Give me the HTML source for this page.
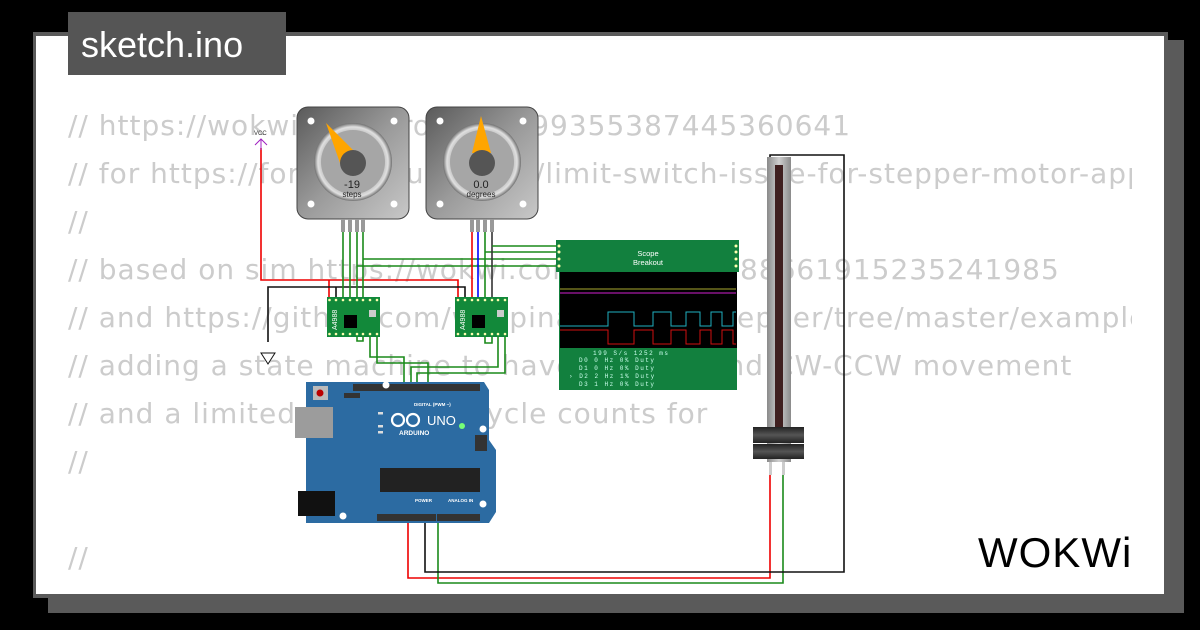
<!DOCTYPE html>
<html><head><meta charset="utf-8"><style>
html,body{margin:0;padding:0;background:#000;width:1200px;height:630px;overflow:hidden}
svg{display:block}
</style></head><body>
<svg width="1200" height="630" viewBox="0 0 1200 630" xmlns="http://www.w3.org/2000/svg" font-family="Liberation Sans, sans-serif">
<defs>
<linearGradient id="mg" x1="0" y1="0" x2="1" y2="1"><stop offset="0" stop-color="#5a5a5a"/><stop offset="0.5" stop-color="#9a9a9a"/><stop offset="1" stop-color="#c8c8c8"/></linearGradient>
<radialGradient id="rg" cx="0.5" cy="0.5" r="0.5"><stop offset="0.7" stop-color="#a8a8a8"/><stop offset="0.9" stop-color="#e0e0e0"/><stop offset="1" stop-color="#707070"/></radialGradient>
<linearGradient id="sg" x1="0" y1="0" x2="1" y2="0"><stop offset="0" stop-color="#8a8a8a"/><stop offset="0.5" stop-color="#cfcfcf"/><stop offset="1" stop-color="#8a8a8a"/></linearGradient>
<linearGradient id="hg" x1="0" y1="0" x2="0" y2="1"><stop offset="0" stop-color="#222"/><stop offset="0.5" stop-color="#555"/><stop offset="1" stop-color="#222"/></linearGradient>
<clipPath id="cp"><rect x="36" y="36" width="1096" height="558"/></clipPath>
</defs>
<rect x="48" y="40" width="1136" height="573" fill="#5a5a5a"/>
<rect x="33" y="32" width="1135" height="566" fill="#5a5a5a"/>
<rect x="36" y="36" width="1128" height="558" fill="#fff"/>
<g clip-path="url(#cp)" fill="#cccccc" font-size="28" letter-spacing="1" font-family="DejaVu Sans, sans-serif">
<text x="68" y="135">// https://wokwi.com/projects/399355387445360641</text>
<text x="68" y="183">// for https://forum.arduino.cc/t/limit-switch-issue-for-stepper-motor-app</text>
<text x="68" y="231">//</text>
<text x="68" y="279">// based on sim https://wokwi.com/projects/388661915235241985</text>
<text x="68" y="327">// and https://github.com/waspinator/AccelStepper/tree/master/examples</text>
<text x="68" y="375">// adding a state machine to have a timed and CW-CCW movement</text>
<text x="68" y="423">// and a limited number of cycle counts for</text>
<text x="68" y="471">//</text>
<text x="68" y="567">//</text>
<text x="68" y="615">// Demo mode</text>
</g>
<rect x="68" y="12" width="218" height="63" fill="#555"/>
<text x="81" y="57" fill="#fff" font-size="36">sketch.ino</text>

<g fill="none" stroke-width="1.6">
<path d="M261 148 V280 H329 V297 M329 280 H458 V297" stroke="#e00"/>
<path d="M268 342 V287 H336 V297 M336 287 H465 V297" stroke="#111"/>
<path d="M343 232 V297 M350 232 V297 M357 232 V297 M363 232 V297" stroke="#1a8a1a"/>
<path d="M363 259 H557 M357 266 H557" stroke="#1a8a1a"/>
<path d="M472 232 V297" stroke="#e00"/>
<path d="M478 232 V297" stroke="#00f"/>
<path d="M485 232 V297 M485 252 H557" stroke="#1a8a1a"/>
<path d="M492 232 V297" stroke="#333"/>
<path d="M492 246 H557" stroke="#1a8a1a"/>
<path d="M357 337 V341 H363 V337 M485 337 V343 H492 V337" stroke="#1a8a1a"/>
<path d="M370 337 V357 H404 V387 M377 337 V363 H428 V387 M498 337 V367 H411 V387 M505 337 V373 H417 V387" stroke="#1a8a1a"/>
<path d="M408 520 V578 H770 V475" stroke="#e00"/>
<path d="M438 520 V583 H783 V475" stroke="#1a8a1a"/>
<path d="M425 520 V572 H844 V155 H770 V157" stroke="#111"/>
</g>
<text x="254" y="135" font-size="6" fill="#333">VCC</text>
<path d="M255 145 L261 139 L267 145 M261 139 V150" stroke="#a020c0" fill="none" stroke-width="1"/>
<path d="M261 353 H275 L268 364 Z" fill="#fff" stroke="#111" stroke-width="1"/>

<g>
<rect x="297" y="107" width="112" height="112" rx="11" fill="url(#mg)" stroke="#444" stroke-width="1"/>
<circle cx="353" cy="162" r="39" fill="url(#rg)"/>
<circle cx="353" cy="162" r="32" fill="#a6a6a6"/>
<circle cx="311" cy="121" r="3.5" fill="#fff"/><circle cx="394" cy="121" r="3.5" fill="#fff"/><circle cx="311" cy="204" r="3.5" fill="#fff"/><circle cx="394" cy="204" r="3.5" fill="#fff"/>
<path d="M326 123 L358 155 L341 166 Z" fill="#ffa500"/>
<circle cx="353" cy="163" r="13" fill="#555"/>
<text x="352" y="188" font-size="11" text-anchor="middle" fill="#222">-19</text>
<text x="352" y="197" font-size="8" text-anchor="middle" fill="#222">steps</text>
<rect x="341" y="219" width="4" height="13" fill="#999"/><rect x="348" y="219" width="4" height="13" fill="#999"/><rect x="355" y="219" width="4" height="13" fill="#999"/><rect x="361" y="219" width="4" height="13" fill="#999"/>

<rect x="426" y="107" width="112" height="112" rx="11" fill="url(#mg)" stroke="#444" stroke-width="1"/>
<circle cx="482" cy="162" r="39" fill="url(#rg)"/>
<circle cx="482" cy="162" r="32" fill="#a6a6a6"/>
<circle cx="440" cy="121" r="3.5" fill="#fff"/><circle cx="523" cy="121" r="3.5" fill="#fff"/><circle cx="440" cy="204" r="3.5" fill="#fff"/><circle cx="523" cy="204" r="3.5" fill="#fff"/>
<path d="M481 116 L472 153 L491 153 Z" fill="#ffa500"/>
<circle cx="482" cy="163" r="13" fill="#555"/>
<text x="481" y="188" font-size="11" text-anchor="middle" fill="#222">0.0</text>
<text x="481" y="197" font-size="8" text-anchor="middle" fill="#222">degrees</text>
<rect x="470" y="219" width="4" height="13" fill="#999"/><rect x="476" y="219" width="4" height="13" fill="#999"/><rect x="483" y="219" width="4" height="13" fill="#999"/><rect x="490" y="219" width="4" height="13" fill="#999"/>
</g>

<g>
<rect x="327" y="297" width="53" height="40" fill="#12893a"/>
<rect x="344" y="315" width="13" height="13" fill="#000"/>
<rect x="369" y="310" width="7" height="7" fill="#ccc"/>
<text transform="translate(337,330) rotate(-90)" font-size="7" fill="#fff">A4988</text>
<g fill="#ffffb0"><circle cx="329.5" cy="300" r="1.3"/><circle cx="336" cy="300" r="1.3"/><circle cx="343" cy="300" r="1.3"/><circle cx="350" cy="300" r="1.3"/><circle cx="357" cy="300" r="1.3"/><circle cx="363" cy="300" r="1.3"/><circle cx="370" cy="300" r="1.3"/><circle cx="377" cy="300" r="1.3"/>
<circle cx="329.5" cy="334" r="1.3"/><circle cx="336" cy="334" r="1.3"/><circle cx="343" cy="334" r="1.3"/><circle cx="350" cy="334" r="1.3"/><circle cx="357" cy="334" r="1.3"/><circle cx="363" cy="334" r="1.3"/><circle cx="370" cy="334" r="1.3"/><circle cx="377" cy="334" r="1.3"/></g>
<rect x="455" y="297" width="53" height="40" fill="#12893a"/>
<rect x="472" y="315" width="13" height="13" fill="#000"/>
<rect x="497" y="310" width="7" height="7" fill="#ccc"/>
<text transform="translate(465,330) rotate(-90)" font-size="7" fill="#fff">A4988</text>
<g fill="#ffffb0"><circle cx="458" cy="300" r="1.3"/><circle cx="465" cy="300" r="1.3"/><circle cx="472" cy="300" r="1.3"/><circle cx="478" cy="300" r="1.3"/><circle cx="485" cy="300" r="1.3"/><circle cx="492" cy="300" r="1.3"/><circle cx="498" cy="300" r="1.3"/><circle cx="505" cy="300" r="1.3"/>
<circle cx="458" cy="334" r="1.3"/><circle cx="465" cy="334" r="1.3"/><circle cx="472" cy="334" r="1.3"/><circle cx="478" cy="334" r="1.3"/><circle cx="485" cy="334" r="1.3"/><circle cx="492" cy="334" r="1.3"/><circle cx="498" cy="334" r="1.3"/><circle cx="505" cy="334" r="1.3"/></g>
</g>

<g>
<rect x="556" y="240" width="183" height="32" fill="#12803e"/>
<rect x="559" y="272" width="178" height="118" fill="#12803e"/>
<rect x="560" y="272" width="177" height="76" fill="#000"/>
<text x="648" y="256" font-size="7.5" fill="#fff" text-anchor="middle">Scope</text>
<text x="648" y="265" font-size="7.5" fill="#fff" text-anchor="middle">Breakout</text>
<g fill="#ffffb0"><circle cx="559" cy="246" r="1.5"/><circle cx="559" cy="252" r="1.5"/><circle cx="559" cy="259" r="1.5"/><circle cx="559" cy="266" r="1.5"/><circle cx="736" cy="246" r="1.5"/><circle cx="736" cy="252" r="1.5"/><circle cx="736" cy="259" r="1.5"/><circle cx="736" cy="266" r="1.5"/></g>
<path d="M560 289 H736" stroke="#aaaa30" stroke-width="1"/>
<path d="M560 293 H736" stroke="#d020d0" stroke-width="1"/>
<path d="M560 326 H608 V312 H634 V326 H653 V312 H671 V326 H686 V312 H700 V326 H711 V312 H722 V326 H733 V312 H736" stroke="#20b0c0" fill="none" stroke-width="1"/>
<path d="M560 330 H608 V344 H634 V330 H653 V344 H671 V330 H686 V344 H700 V330 H711 V344 H722 V330 H733 V344 H736" stroke="#d01010" fill="none" stroke-width="1"/>
<g font-family="Liberation Mono, monospace" font-size="6" fill="#cfe" letter-spacing="1.5">
<text x="593" y="355">199 S/s    1252 ms</text>
<text x="579" y="362">D0       0 Hz     0% Duty</text>
<text x="579" y="370">D1       0 Hz     0% Duty</text>
<text x="569" y="378">›  D2       2 Hz     1% Duty</text>
<text x="579" y="386">D3       1 Hz     0% Duty</text>
</g>
</g>

<g>
<rect x="767" y="157" width="24" height="305" fill="url(#sg)"/>
<rect x="775" y="165" width="8" height="262" fill="#3f1f1f"/>
<rect x="753" y="427" width="51" height="16" fill="url(#hg)"/>
<rect x="753" y="444" width="51" height="15" fill="url(#hg)"/>
<rect x="769" y="462" width="3" height="13" fill="#ccc"/><rect x="782" y="462" width="3" height="13" fill="#ccc"/>
</g>

<g>
<path d="M306 382 H484 L489 390 V440 L496 450 V512 L489 523 H306 Z" fill="#2c6ba2"/>
<rect x="295" y="407" width="38" height="31" fill="#9c9c9c"/>
<rect x="298" y="491" width="37" height="25" fill="#111"/>
<rect x="353" y="384" width="127" height="7" fill="#333"/>
<rect x="377" y="514" width="59" height="7" fill="#333"/>
<rect x="437" y="514" width="43" height="7" fill="#333"/>
<rect x="380" y="468" width="100" height="24" fill="#222"/>
<rect x="313" y="386" width="15" height="14" fill="#bbb"/>
<circle cx="320" cy="393" r="3.5" fill="#b00"/>
<circle cx="386" cy="385" r="3.5" fill="#fff"/>
<circle cx="483" cy="429" r="3.5" fill="#fff"/>
<circle cx="483" cy="504" r="3.5" fill="#fff"/>
<circle cx="343" cy="516" r="3.5" fill="#fff"/>
<rect x="344" y="393" width="16" height="5" fill="#333"/>
<rect x="475" y="435" width="12" height="16" fill="#333"/>
<circle cx="398" cy="420" r="6" fill="none" stroke="#fff" stroke-width="2.2"/>
<circle cx="413" cy="420" r="6" fill="none" stroke="#fff" stroke-width="2.2"/>
<text x="427" y="425" font-size="13" fill="#fff">UNO</text>
<text x="399" y="435" font-size="6.5" fill="#fff" font-weight="bold">ARDUINO</text>
<text x="414" y="406" font-size="4.5" fill="#fff" font-weight="bold">DIGITAL (PWM ~)</text>
<text x="415" y="502" font-size="4.5" fill="#fff" font-weight="bold">POWER</text>
<text x="448" y="502" font-size="4.5" fill="#fff" font-weight="bold">ANALOG IN</text>
<circle cx="462" cy="426" r="3" fill="#7f7"/>
<rect x="378" y="412" width="5" height="2.5" fill="#ddd"/><rect x="378" y="425" width="5" height="2.5" fill="#ddd"/><rect x="378" y="431" width="5" height="2.5" fill="#ddd"/>
</g>

<text x="978" y="567" font-size="42" fill="#000" letter-spacing="1">WOKWi</text>
</svg>
</body></html>
